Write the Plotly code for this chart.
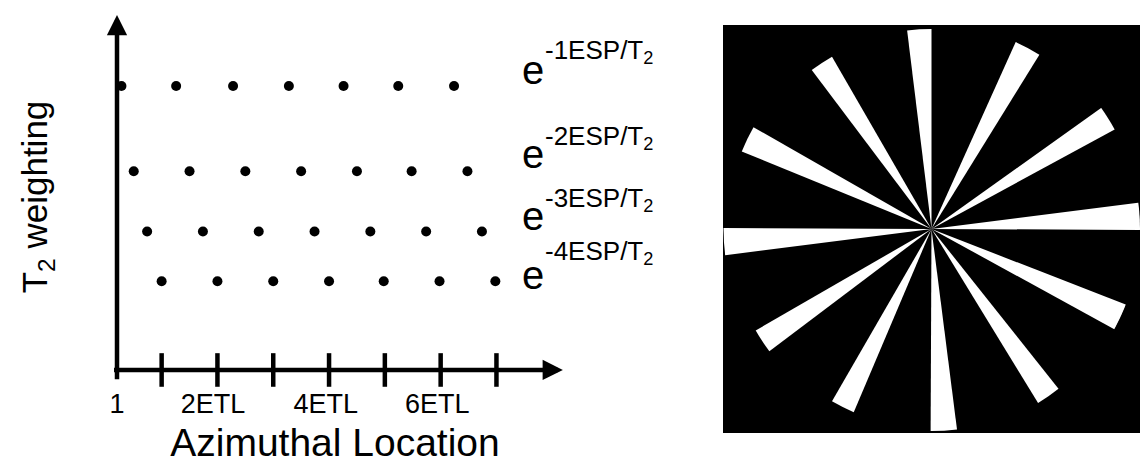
import plotly.graph_objects as go

# ---------------- data ----------------
# Left panel: azimuthal location of each echo (units of views, ETL = 5)
row1_x = [1.4, 6.3, 11.4, 16.4, 21.3, 26.2, 31.2]
row2_x = [2.5, 7.5, 12.5, 17.5, 22.5, 27.4, 32.4]
row3_x = [3.7, 8.7, 13.7, 18.7, 23.7, 28.7, 33.7]
row4_x = [5.0, 10.0, 15.0, 20.0, 24.9, 29.9, 34.9]
row_weight = [0.80, 0.56, 0.39, 0.25]          # relative T2 weighting of each echo row
row_labels = ["-1ESP/T<sub>2</sub>", "-2ESP/T<sub>2</sub>",
              "-3ESP/T<sub>2</sub>", "-4ESP/T<sub>2</sub>"]
tick_positions = [5, 10, 15, 20, 25, 30, 35]
tick_label_vals = [1, 9.6, 19.7, 29.7]
tick_label_text = ["1", "2ETL", "4ETL", "6ETL"]

# Right panel: star phantom spokes (angle in degrees, angular width, length)
spoke_theta = [3.5, 32, 62, 93.5, 123.5, 154, 183.5, 213.5, 243.5, 273.5, 305, 335]
spoke_width = [7.5, 7, 7.5, 7, 7, 7.5, 7.5, 7, 7, 7.5, 7, 7.5]
spoke_len = [212, 210, 205, 200, 199, 205, 208, 203, 199, 202, 204, 209]

# ---------------- layout helpers ----------------
W, H = 1140, 464
FONT = "Liberation Sans, Arial, Helvetica, sans-serif"


def px(x):
    return x / W


def py(y):
    return 1 - y / H


fig = go.Figure()

# echo dots
for xs, w in zip([row1_x, row2_x, row3_x, row4_x], row_weight):
    fig.add_trace(go.Scatter(
        x=xs, y=[w] * len(xs), mode="markers",
        marker=dict(color="black", size=10, line=dict(width=0)),
        xaxis="x", yaxis="y", hoverinfo="skip", cliponaxis=False))

# tick marks crossing the x axis
fig.add_trace(go.Scatter(
    x=tick_positions, y=[0] * len(tick_positions), mode="markers",
    marker=dict(symbol="line-ns", size=24, line=dict(width=4.5, color="black")),
    xaxis="x", yaxis="y", hoverinfo="skip", cliponaxis=False))

# star phantom
fig.add_trace(go.Barpolar(
    r=spoke_len, theta=spoke_theta, width=spoke_width, base=0,
    marker=dict(color="white", line=dict(width=0)),
    subplot="polar", hoverinfo="skip"))

annotations = []
# axis arrows
annotations.append(dict(x=1, y=1.0, ax=1, ay=-0.03, xref="x", yref="y",
                        axref="x", ayref="y", text="", showarrow=True,
                        arrowhead=2, arrowsize=0.9, arrowwidth=4.5, arrowcolor="black"))
annotations.append(dict(x=40.95, y=0, ax=0.6, ay=0, xref="x", yref="y",
                        axref="x", ayref="y", text="", showarrow=True,
                        arrowhead=2, arrowsize=0.9, arrowwidth=4.5, arrowcolor="black"))

# exponential weighting labels
e_center_y = [70, 154, 216, 275]
sup_mid_y = [52, 137, 199, 252]
for lab, ey, sy in zip(row_labels, e_center_y, sup_mid_y):
    annotations.append(dict(x=px(533), y=py(ey), xref="paper", yref="paper",
                            text="e", showarrow=False, xanchor="center", yanchor="middle",
                            font=dict(family=FONT, size=40, color="black")))
    annotations.append(dict(x=px(543), y=py(sy), xref="paper", yref="paper",
                            text=lab, showarrow=False, xanchor="left", yanchor="middle",
                            font=dict(family=FONT, size=26, color="black")))

fig.update_layout(
    width=W, height=H,
    margin=dict(l=0, r=0, t=0, b=0),
    template="none",
    paper_bgcolor="white", plot_bgcolor="white",
    showlegend=False, hovermode=False,
    font=dict(family=FONT, color="black"),
    xaxis=dict(
        domain=[px(100), px(570)], range=[-0.523, 41.59],
        anchor="free", position=py(370),
        showline=False, showgrid=False, zeroline=False,
        tickvals=tick_label_vals, ticktext=tick_label_text,
        ticks="outside", ticklen=10, tickcolor="rgba(0,0,0,0)",
        tickfont=dict(family=FONT, size=27, color="black"),
        title=dict(text="Azimuthal Location", standoff=12,
                   font=dict(family=FONT, size=39, color="black")),
        automargin=False, fixedrange=True),
    yaxis=dict(
        domain=[py(379), py(15)], range=[-0.0254, 1.0],
        anchor="x", showline=False, showgrid=False, zeroline=False,
        showticklabels=False, ticks="",
        title=dict(text="T<sub>2</sub> weighting", standoff=40,
                   font=dict(family=FONT, size=35, color="black")),
        automargin=False, fixedrange=True),
    polar=dict(
        domain=dict(x=[px(723), 1.0], y=[py(437.5), py(20.5)]),
        bgcolor="rgba(0,0,0,0)",
        radialaxis=dict(visible=False, range=[0, 208.5]),
        angularaxis=dict(visible=False, rotation=0, direction="counterclockwise"),
        bargap=0),
    shapes=[dict(type="rect", xref="paper", yref="paper",
                 x0=px(723), x1=1.0, y0=py(433), y1=py(25),
                 fillcolor="black", line=dict(width=0), layer="below")],
    annotations=annotations,
)

fig.write_html("out.html")
